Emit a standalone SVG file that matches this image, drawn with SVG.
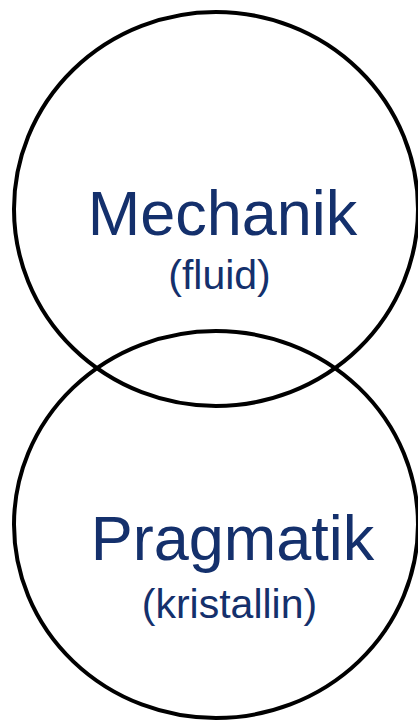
<svg xmlns="http://www.w3.org/2000/svg" width="418" height="721" viewBox="0 0 418 721">
<style>
.c{fill:none;stroke:#000;stroke-width:4}
.t{font-family:"Liberation Sans",Arial,sans-serif;fill:#14306C;text-anchor:middle}
.big{font-size:63px}
.small{font-size:41px}
</style>
<rect width="418" height="721" fill="#fff"/>
<g id="mechanik">
<ellipse class="c" cx="216" cy="209" rx="202" ry="197"/>
<text class="t big" x="222.5" y="235">Mechanik</text>
<text class="t small" x="219.5" y="289">(fluid)</text>
</g>
<g id="pragmatik">
<ellipse class="c" cx="216" cy="524.5" rx="202" ry="193.5"/>
<text class="t big" x="232.5" y="560">Pragmatik</text>
<text class="t small" x="229.5" y="618">(kristallin)</text>
</g>
<g id="connectors"/>
</svg>
